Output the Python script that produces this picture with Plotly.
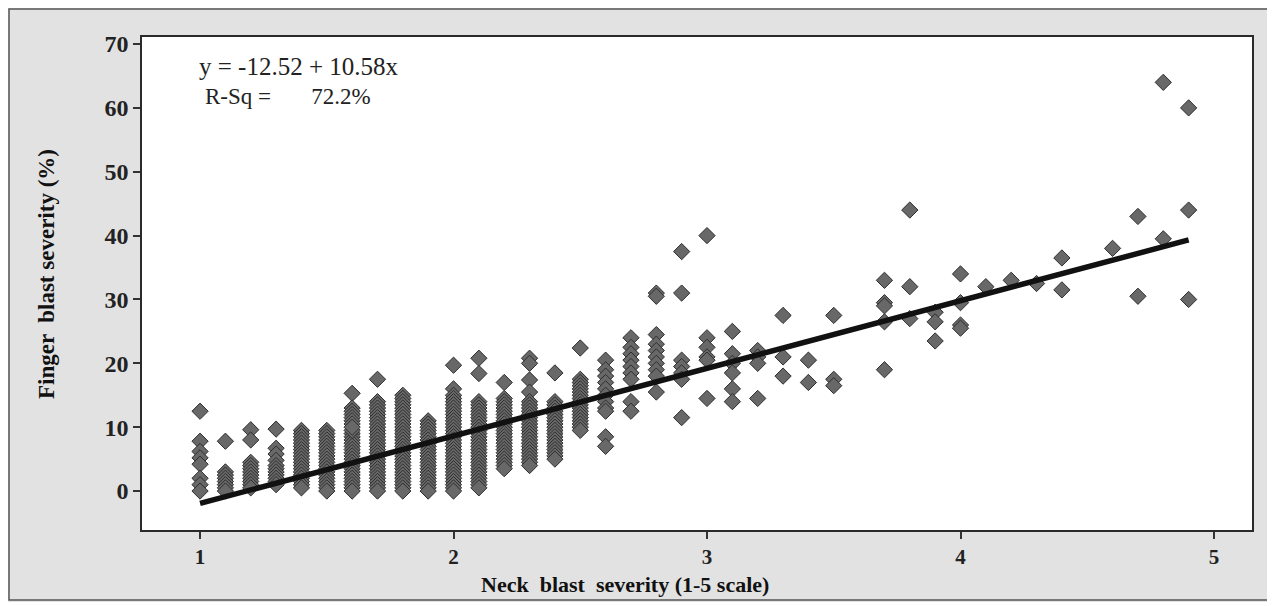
import plotly.graph_objects as go

# ---- data ----
neck_severity = (
    [1.0] * 8 + [1.1] * 8 + [1.2] * 11 + [1.3] * 11 + [1.4] * 19 + [1.5] * 20 +
    [1.6] * 28 + [1.7] * 30 + [1.8] * 31 + [1.9] * 23 + [2.0] * 33 + [2.1] * 30 +
    [2.2] * 24 + [2.3] * 25 + [2.4] * 20 + [2.5] * 18 + [2.6] * 11 + [2.7] * 9 +
    [2.8] * 10 + [2.9] * 7 + [3.0] * 6 + [3.1] * 6 + [3.2] * 4 + [3.3] * 3 +
    [3.4] * 2 + [3.5] * 3 + [3.7] * 5 + [3.8] * 3 + [3.9] * 3 + [4.0] * 4 +
    [4.1] * 1 + [4.2] * 1 + [4.3] * 1 + [4.4] * 2 + [4.6] * 1 + [4.7] * 2 +
    [4.8] * 2 + [4.9] * 3
)
finger_severity = [
    # 1.0
    12.5, 7.8, 6.2, 5.2, 4.2, 2.0, 1.0, 0.0,
    # 1.1
    7.8, 3.0, 2.5, 2.0, 1.5, 1.0, 0.5, 0.0,
    # 1.2
    9.6, 8.0, 4.5, 4.0, 3.5, 3.0, 2.5, 2.0, 1.5, 1.0, 0.5,
    # 1.3
    9.7, 6.7, 5.8, 4.8, 4.0, 3.5, 3.0, 2.5, 2.0, 1.5, 1.0,
    # 1.4
    9.5, 9.0, 8.5, 8.0, 7.5, 7.0, 6.5, 6.0, 5.5, 5.0, 4.5, 4.0, 3.5, 3.0, 2.5, 2.0, 1.5, 1.0, 0.5,
    # 1.5
    9.5, 9.0, 8.5, 8.0, 7.5, 7.0, 6.5, 6.0, 5.5, 5.0, 4.5, 4.0, 3.5, 3.0, 2.5, 2.0, 1.5, 1.0, 0.5, 0.0,
    # 1.6
    15.3, 13.0, 12.5, 12.0, 11.5, 11.0, 10.5, 9.0, 8.5, 8.0, 7.5, 7.0, 6.5, 6.0,
    5.5, 5.0, 4.5, 4.0, 3.5, 3.0, 2.5, 2.0, 1.5, 1.0, 0.5, 0.0, 9.5, 10.0,
    # 1.7
    17.5, 14.0, 13.5, 13.0, 12.5, 12.0, 11.5, 11.0, 10.5, 10.0, 9.5, 9.0, 8.5, 8.0, 7.5,
    7.0, 6.5, 6.0, 5.5, 5.0, 4.5, 4.0, 3.5, 3.0, 2.5, 2.0, 1.5, 1.0, 0.5, 0.0,
    # 1.8
    15.0, 14.5, 14.0, 13.5, 13.0, 12.5, 12.0, 11.5, 11.0, 10.5, 10.0, 9.5, 9.0, 8.5, 8.0, 7.5,
    7.0, 6.5, 6.0, 5.5, 5.0, 4.5, 4.0, 3.5, 3.0, 2.5, 2.0, 1.5, 1.0, 0.5, 0.0,
    # 1.9
    11.0, 10.5, 10.0, 9.5, 9.0, 8.5, 8.0, 7.5, 7.0, 6.5, 6.0, 5.5, 5.0, 4.5, 4.0, 3.5,
    3.0, 2.5, 2.0, 1.5, 1.0, 0.5, 0.0,
    # 2.0
    19.7, 16.0, 15.0, 14.5, 14.0, 13.5, 13.0, 12.5, 12.0, 11.5, 11.0, 10.5, 10.0, 9.5, 9.0, 8.5, 8.0,
    7.5, 7.0, 6.5, 6.0, 5.5, 5.0, 4.5, 4.0, 3.5, 3.0, 2.5, 2.0, 1.5, 1.0, 0.5, 0.0,
    # 2.1
    20.8, 18.4, 14.0, 13.5, 13.0, 12.5, 12.0, 11.5, 11.0, 10.5, 10.0, 9.5, 9.0, 8.5, 8.0,
    7.5, 7.0, 6.5, 6.0, 5.5, 5.0, 4.5, 4.0, 3.5, 3.0, 2.5, 2.0, 1.5, 1.0, 0.5,
    # 2.2
    17.0, 14.5, 14.0, 13.5, 13.0, 12.5, 12.0, 11.5, 11.0, 10.5, 10.0, 9.5, 9.0, 8.5, 8.0, 7.5,
    7.0, 6.5, 6.0, 5.5, 5.0, 4.5, 4.0, 3.5,
    # 2.3
    20.8, 20.0, 17.4, 15.5, 14.0, 13.5, 13.0, 12.5, 12.0, 11.5, 11.0, 10.5, 10.0, 9.5, 9.0, 8.5,
    8.0, 7.5, 7.0, 6.5, 6.0, 5.5, 5.0, 4.5, 4.0,
    # 2.4
    18.5, 14.0, 13.5, 13.0, 12.5, 12.0, 11.5, 11.0, 10.5, 10.0, 9.5, 9.0, 8.5, 8.0, 7.5, 7.0,
    6.5, 6.0, 5.5, 5.0,
    # 2.5
    22.4, 17.5, 17.0, 16.5, 16.0, 15.5, 15.0, 14.5, 14.0, 13.5, 13.0, 12.5, 12.0, 11.5, 11.0,
    10.5, 10.0, 9.5,
    # 2.6
    20.5, 19.0, 18.0, 17.0, 16.0, 15.0, 14.0, 13.0, 12.5, 8.5, 7.0,
    # 2.7
    24.0, 22.5, 21.5, 20.5, 19.5, 18.5, 17.5, 14.0, 12.5,
    # 2.8
    31.0, 30.5, 24.5, 23.0, 22.0, 21.0, 20.0, 19.0, 18.0, 15.5,
    # 2.9
    37.5, 31.0, 20.5, 19.5, 18.5, 17.5, 11.5,
    # 3.0
    40.0, 24.0, 22.5, 21.0, 20.5, 14.5,
    # 3.1
    25.0, 21.5, 20.0, 18.5, 16.0, 14.0,
    # 3.2
    22.0, 21.0, 20.0, 14.5,
    # 3.3
    27.5, 21.0, 18.0,
    # 3.4
    20.5, 17.0,
    # 3.5
    27.5, 17.5, 16.5,
    # 3.7
    33.0, 29.5, 29.0, 26.5, 19.0,
    # 3.8
    44.0, 32.0, 27.0,
    # 3.9
    28.0, 26.5, 23.5,
    # 4.0
    34.0, 29.5, 26.0, 25.5,
    # 4.1, 4.2, 4.3
    32.0, 33.0, 32.5,
    # 4.4
    36.5, 31.5,
    # 4.6
    38.0,
    # 4.7
    43.0, 30.5,
    # 4.8
    64.0, 39.5,
    # 4.9
    60.0, 44.0, 30.0,
]

fit_intercept = -12.52
fit_slope = 10.58
fit_x = [1.0, 4.9]
fit_y = [fit_intercept + fit_slope * v for v in fit_x]

x_ticks = [1, 2, 3, 4, 5]
y_ticks = [0, 10, 20, 30, 40, 50, 60, 70]

serif = "Liberation Serif, Times New Roman, serif"

fig = go.Figure()
fig.add_trace(go.Scatter(
    x=neck_severity, y=finger_severity, mode="markers",
    marker=dict(symbol="diamond", size=12.5, color="#686868",
                line=dict(color="#2e2e2e", width=1)),
    showlegend=False, hoverinfo="x+y",
))
fig.add_trace(go.Scatter(
    x=fit_x, y=fit_y, mode="lines",
    line=dict(color="#111111", width=5.5),
    showlegend=False, hoverinfo="skip",
))

axis_common = dict(
    showline=True, linecolor="#2a2a2a", linewidth=1.5, mirror=True,
    ticks="outside", ticklen=7, tickcolor="#333333", tickwidth=1.5,
    showgrid=False, zeroline=False,
)

# page body has an 8px margin: figure is placed at (8, 8) in the window
fig.update_layout(
    width=1267, height=598,
    margin=dict(l=134, r=23, t=29, b=76),
    paper_bgcolor="#e2e2e2", plot_bgcolor="white",
    xaxis=dict(range=[0.771, 5.15], tickvals=x_ticks, ticklabelstandoff=0,
               tickfont=dict(family=serif, size=21, color="#222222", weight="bold"),
               **axis_common),
    yaxis=dict(range=[-6.1, 71.1], tickvals=y_ticks,
               tickfont=dict(family=serif, size=24, color="#222222", weight="bold"),
               **axis_common),
    font=dict(family=serif),
)


def px_x(p):
    return (p - 142) / 1110


def px_y(p):
    return (530 - p) / 493


fig.add_annotation(
    text="y = -12.52 + 10.58x", xref="paper", yref="paper",
    x=px_x(197), y=px_y(67), xanchor="left", yanchor="middle",
    showarrow=False, font=dict(family=serif, size=25, color="#222222"),
)
fig.add_annotation(
    text="R-Sq =       72.2%", xref="paper", yref="paper",
    x=px_x(203), y=px_y(96), xanchor="left", yanchor="middle",
    showarrow=False, font=dict(family=serif, size=23, color="#222222"),
)
fig.add_annotation(
    text="Neck  blast  severity (1-5 scale)", xref="paper", yref="paper",
    x=px_x(625), y=px_y(584), xanchor="center", yanchor="middle",
    showarrow=False, font=dict(family=serif, size=22, color="#111111", weight="bold"),
)
fig.add_annotation(
    text="Finger  blast severity (%)", xref="paper", yref="paper", textangle=-90,
    x=px_x(46), y=px_y(274), xanchor="center", yanchor="middle",
    showarrow=False, font=dict(family=serif, size=23, color="#111111", weight="bold"),
)

# white margin at right/bottom edge and thin dark outer frame
fig.add_shape(type="rect", xref="paper", yref="paper",
              x0=px_x(1271), x1=px_x(1290), y0=px_y(620), y1=px_y(0),
              line=dict(width=0), fillcolor="white", layer="above")
fig.add_shape(type="rect", xref="paper", yref="paper",
              x0=px_x(0), x1=px_x(1290), y0=px_y(620), y1=px_y(602),
              line=dict(width=0), fillcolor="white", layer="above")
fig.add_shape(type="rect", xref="paper", yref="paper",
              x0=px_x(9), x1=px_x(1269), y0=px_y(600), y1=px_y(9),
              line=dict(color="#555555", width=1.5), fillcolor="rgba(0,0,0,0)", layer="above")

fig.write_html("out.html")
